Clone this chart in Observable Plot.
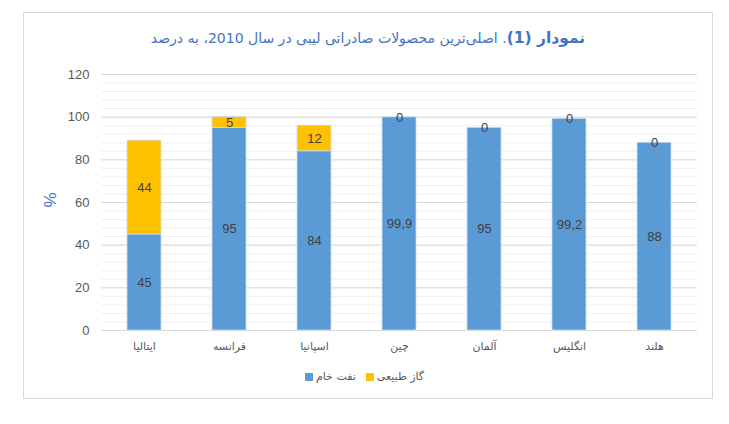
<!DOCTYPE html>
<html>
<head>
<meta charset="utf-8">
<script src="https://cdn.jsdelivr.net/npm/d3@7"></script>
<script src="https://cdn.jsdelivr.net/npm/@observablehq/plot@0.6"></script>
<style>
  body { margin: 0; background: #fff; }
  #wrap { position: relative; width: 729px; height: 424px; font-family: "DejaVu Sans", sans-serif; }
  #frame { position: absolute; left: 23px; top: 12px; width: 688px; height: 385px; border: 1px solid #d9d9d9; box-sizing: content-box; }
  #title { position: absolute; left: 23px; width: 690px; top: 29px; text-align: center; direction: rtl; color: #4472C4; font-size: 14px; font-family: "DejaVu Sans", sans-serif; }
  #title b { font-size: 15.5px; }
  #plot { position: absolute; left: 0; top: 60px; }
  #ylab { position: absolute; left: 43px; top: 190px; color: #4472C4; font-size: 17px; transform: rotate(-90deg); font-family: "Liberation Sans", sans-serif; }
  #legend { position: absolute; left: 0; width: 729px; top: 370px; display: flex; justify-content: center; gap: 10px; direction: ltr; font-size: 11px; color: #595959; }
  .item { display: flex; align-items: center; gap: 3px; }
  .sw { width: 8px; height: 8px; display: inline-block; }
</style>
</head>
<body>
<div id="wrap">
  <div id="frame"></div>
  <div id="title"><b>نمودار (1)</b>. اصلی‌ترین محصولات صادراتی لیبی در سال  2010، به درصد</div>
  <div id="plot"></div>
  <div id="ylab">%</div>
  <div id="legend"></div>
</div>
<script>
const countries = ["ایتالیا", "فرانسه", "اسپانیا", "چین", "آلمان", "انگلیس", "هلند"];
const oil = [45, 95, 84, 99.9, 95, 99.2, 88];
const gas = [44, 5, 12, 0, 0, 0, 0];
const seriesNames = ["نفت خام", "گاز طبیعی"];
const seriesColors = ["#5B9BD5", "#FFC000"];
const yTicks = [0, 20, 40, 60, 80, 100, 120];
const yMinor = d3.range(0, 121, 4);

const rows = [];
countries.forEach((c, i) => {
  rows.push({country: c, type: seriesNames[0], value: oil[i], mid: oil[i] / 2});
  rows.push({country: c, type: seriesNames[1], value: gas[i], mid: oil[i] + gas[i] / 2});
});

const fmt = v => String(v).replace(".", ",");

const chart = Plot.plot({
  width: 729,
  height: 310,
  marginTop: 14,
  marginBottom: 40,
  marginLeft: 101,
  marginRight: 32,
  style: {fontFamily: "DejaVu Sans, sans-serif", background: "transparent"},
  x: {domain: countries, paddingInner: 0.6, paddingOuter: 0.3, label: null, tickSize: 0, tickPadding: 12},
  y: {domain: [0, 120], label: null, ticks: yTicks, tickSize: 0, tickPadding: 12},
  color: {domain: seriesNames, range: seriesColors},
  marks: [
    Plot.ruleY(yMinor, {stroke: "#f0f0f0", strokeWidth: 1}),
    Plot.ruleY(yTicks, {stroke: "#d9d9d9", strokeWidth: 1}),
    Plot.barY(rows, Plot.stackY({x: "country", y: "value", fill: "type", stroke: "#c9dcef", strokeWidth: 0.8, order: seriesNames})),
    Plot.text(rows, {x: "country", y: "mid", text: d => fmt(d.value), fill: "#404040", fontSize: 13, fontFamily: "Liberation Sans, sans-serif"}),
    Plot.axisY({ticks: yTicks, tickSize: 0, tickPadding: 12, fontSize: 13, fill: "#595959", label: null, fontFamily: "Liberation Sans, sans-serif"}),
    Plot.axisX({tickSize: 0, tickPadding: 12, fontSize: 11, fill: "#595959", label: null})
  ]
});
document.getElementById("plot").appendChild(chart);

const legend = document.getElementById("legend");
seriesNames.forEach((n, i) => {
  const it = document.createElement("div");
  it.className = "item";
  const sw = document.createElement("span");
  sw.className = "sw";
  sw.style.background = seriesColors[i];
  const t = document.createElement("span");
  t.textContent = n;
  t.style.direction = "rtl";
  it.appendChild(sw);
  it.appendChild(t);
  legend.appendChild(it);
});
</script>
</body>
</html>
